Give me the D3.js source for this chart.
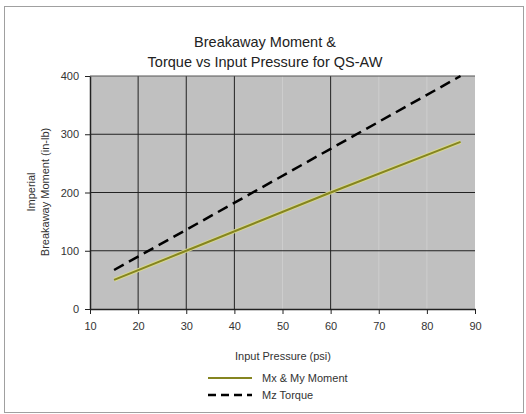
<!DOCTYPE html>
<html>
<head>
<meta charset="utf-8">
<script src="https://cdn.jsdelivr.net/npm/d3@7"></script>
<style>
  body { margin: 0; background: #fff; }
  svg text { font-family: "Liberation Sans", Arial, sans-serif; }
</style>
</head>
<body>
<div id="viz"></div>
<script>
var pressure = [15, 30, 60, 87];
var mxMoment = [50, 100, 200, 287];
var mzTorque = [67, 136, 275, 400];
var xTicks = [10, 20, 30, 40, 50, 60, 70, 80, 90];
var yTicks = [0, 100, 200, 300, 400];
var darkX = [20, 30, 40, 60];
var lightX = [50, 70, 80];

var width = 526,
    height = 414,
    plotLeft = 90, plotRight = 475,
    plotTop = 76, plotBottom = 309;

var svg = d3.select('#viz').append('svg')
    .attr('width', width)
    .attr('height', height);

svg.append('rect')
    .attr('x', 4.5).attr('y', 6.5)
    .attr('width', 519).attr('height', 406)
    .style('fill', '#fff')
    .style('stroke', '#a0a0a0');

var xScale = d3.scaleLinear().domain([10, 90]).range([plotLeft, plotRight]);
var yScale = d3.scaleLinear().domain([0, 400]).range([plotBottom, plotTop]);

svg.append('rect')
    .attr('x', plotLeft).attr('y', plotTop)
    .attr('width', plotRight - plotLeft).attr('height', plotBottom - plotTop)
    .style('fill', '#c0c0c0');

// gridlines
svg.selectAll('.vlight').data(lightX)
  .enter().append('line')
    .attr('x1', function(d) { return xScale(d); })
    .attr('x2', function(d) { return xScale(d); })
    .attr('y1', plotTop).attr('y2', plotBottom)
    .style('stroke', '#cdcdcd');
svg.selectAll('.vdark').data(darkX)
  .enter().append('line')
    .attr('x1', function(d) { return xScale(d); })
    .attr('x2', function(d) { return xScale(d); })
    .attr('y1', plotTop).attr('y2', plotBottom)
    .style('stroke', '#222');
svg.selectAll('.hgrid').data(yTicks.slice(1))
  .enter().append('line')
    .attr('x1', plotLeft).attr('x2', plotRight)
    .attr('y1', function(d) { return yScale(d); })
    .attr('y2', function(d) { return yScale(d); })
    .style('stroke', function(d) { return d === 400 ? '#555' : '#222'; });

// axes
var xAxis = svg.append('g')
    .attr('transform', 'translate(0,' + plotBottom + ')')
    .call(d3.axisBottom(xScale).tickValues(xTicks).tickSize(5).tickSizeOuter(0).tickPadding(8));
var yAxis = svg.append('g')
    .attr('transform', 'translate(' + plotLeft + ',0)')
    .call(d3.axisLeft(yScale).tickValues(yTicks).tickSize(5).tickSizeOuter(0).tickPadding(6));
[xAxis, yAxis].forEach(function(a) {
  a.select('.domain').style('stroke', '#222').style('stroke-width', 1.5);
  a.selectAll('.tick line').style('stroke', '#222');
  a.selectAll('text').style('font-size', '11px').style('fill', '#333')
      .style('font-family', '"Liberation Sans", Arial, sans-serif');
});

// series
var line = d3.line()
    .x(function(d) { return xScale(d[0]); })
    .y(function(d) { return yScale(d[1]); });

svg.append('path')
    .datum(d3.zip(pressure, mxMoment))
    .attr('d', line)
    .style('fill', 'none')
    .style('stroke', '#d8d890')
    .style('stroke-width', 4);
svg.append('path')
    .datum(d3.zip(pressure, mxMoment))
    .attr('d', line)
    .style('fill', 'none')
    .style('stroke', '#858520')
    .style('stroke-width', 2);
svg.append('path')
    .datum(d3.zip(pressure, mzTorque))
    .attr('d', line)
    .style('fill', 'none')
    .style('stroke', '#000')
    .style('stroke-width', 2.5)
    .style('stroke-dasharray', '11,6');

// titles
svg.append('text')
    .attr('x', 265).attr('y', 47)
    .attr('text-anchor', 'middle')
    .style('font-size', '14.5px').style('fill', '#222')
    .text('Breakaway Moment &');
svg.append('text')
    .attr('x', 265).attr('y', 67)
    .attr('text-anchor', 'middle')
    .style('font-size', '14.5px').style('fill', '#222')
    .text('Torque vs Input Pressure for QS-AW');

svg.append('text')
    .attr('x', 283).attr('y', 360)
    .attr('text-anchor', 'middle')
    .style('font-size', '11px').style('fill', '#333')
    .text('Input Pressure (psi)');

svg.append('text')
    .attr('transform', 'translate(35,192) rotate(-90)')
    .attr('text-anchor', 'middle')
    .style('font-size', '11px').style('fill', '#333')
    .text('Imperial');
svg.append('text')
    .attr('transform', 'translate(49,192) rotate(-90)')
    .attr('text-anchor', 'middle')
    .style('font-size', '11px').style('fill', '#333')
    .text('Breakaway Moment (in-lb)');

// legend
svg.append('line')
    .attr('x1', 208).attr('x2', 252).attr('y1', 378).attr('y2', 378)
    .style('stroke', '#858520').style('stroke-width', 2);
svg.append('line')
    .attr('x1', 208).attr('x2', 252).attr('y1', 395).attr('y2', 395)
    .style('stroke', '#000').style('stroke-width', 2.5)
    .style('stroke-dasharray', '8,5');
svg.append('text')
    .attr('x', 262).attr('y', 382)
    .style('font-size', '11px').style('fill', '#333')
    .text('Mx & My Moment');
svg.append('text')
    .attr('x', 262).attr('y', 399)
    .style('font-size', '11px').style('fill', '#333')
    .text('Mz Torque');
</script>
</body>
</html>
